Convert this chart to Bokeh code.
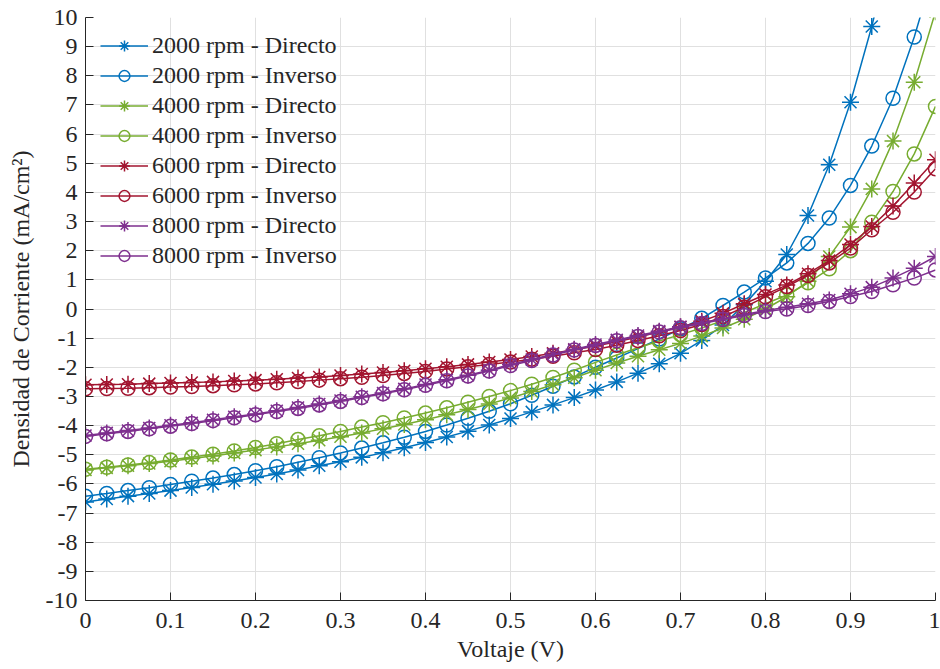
from bokeh.plotting import figure
from bokeh.models import FixedTicker, Legend, LegendItem, Range1d
from bokeh.embed import file_html
from bokeh.resources import INLINE

# Applied voltage (V)
voltaje = [0.0, 0.025, 0.05, 0.075, 0.1, 0.125, 0.15, 0.175, 0.2, 0.225,
           0.25, 0.275, 0.3, 0.325, 0.35, 0.375, 0.4, 0.425, 0.45, 0.475,
           0.5, 0.525, 0.55, 0.575, 0.6, 0.625, 0.65, 0.675, 0.7, 0.725,
           0.75, 0.775, 0.8, 0.825, 0.85, 0.875, 0.9, 0.925, 0.95, 0.975, 1.0]

# Current density (mA/cm^2) for each spin speed and sweep direction
j_2000_dir = [-6.62, -6.52, -6.42, -6.33, -6.23, -6.12, -6.01, -5.90, -5.78, -5.66,
              -5.52, -5.38, -5.24, -5.09, -4.93, -4.76, -4.58, -4.39, -4.19, -3.98,
              -3.76, -3.53, -3.29, -3.04, -2.78, -2.50, -2.20, -1.88, -1.52, -1.08,
              -0.55, 0.15, 0.95, 1.87, 3.21, 4.95, 7.09, 9.69, 12.7, 16.3, 20.5]
j_2000_inv = [-6.42, -6.33, -6.23, -6.13, -6.02, -5.91, -5.80, -5.68, -5.55, -5.41,
              -5.26, -5.10, -4.94, -4.77, -4.59, -4.40, -4.20, -3.98, -3.75, -3.51,
              -3.25, -2.96, -2.65, -2.33, -2.00, -1.68, -1.36, -1.03, -0.68, -0.32,
              0.12, 0.58, 1.06, 1.58, 2.25, 3.12, 4.24, 5.59, 7.23, 9.33, 11.8]
j_4000_dir = [-5.52, -5.45, -5.38, -5.30, -5.22, -5.13, -5.04, -4.94, -4.84, -4.73,
              -4.62, -4.50, -4.38, -4.25, -4.11, -3.96, -3.80, -3.63, -3.45, -3.26,
              -3.05, -2.83, -2.60, -2.36, -2.10, -1.85, -1.62, -1.40, -1.18, -0.93,
              -0.65, -0.35, 0.00, 0.42, 0.95, 1.80, 2.81, 4.12, 5.76, 7.78, 10.2]
j_4000_inv = [-5.50, -5.43, -5.35, -5.27, -5.18, -5.08, -4.98, -4.87, -4.75, -4.62,
              -4.48, -4.35, -4.20, -4.05, -3.90, -3.74, -3.57, -3.39, -3.20, -3.00,
              -2.80, -2.58, -2.35, -2.10, -1.83, -1.58, -1.33, -1.10, -0.88, -0.65,
              -0.40, -0.12, 0.18, 0.48, 0.90, 1.38, 2.00, 2.98, 4.03, 5.32, 6.95]
j_6000_dir = [-2.60, -2.59, -2.58, -2.56, -2.54, -2.52, -2.50, -2.47, -2.44, -2.41,
              -2.37, -2.33, -2.28, -2.23, -2.18, -2.12, -2.05, -1.98, -1.90, -1.82,
              -1.73, -1.63, -1.52, -1.40, -1.27, -1.12, -0.96, -0.79, -0.62, -0.42,
              -0.15, 0.18, 0.50, 0.82, 1.21, 1.66, 2.21, 2.83, 3.53, 4.32, 5.12]
j_6000_inv = [-2.74, -2.73, -2.72, -2.70, -2.68, -2.66, -2.63, -2.60, -2.57, -2.53,
              -2.49, -2.44, -2.39, -2.34, -2.28, -2.21, -2.14, -2.06, -1.98, -1.90,
              -1.82, -1.72, -1.62, -1.50, -1.39, -1.24, -1.08, -0.92, -0.74, -0.53,
              -0.26, 0.06, 0.42, 0.77, 1.15, 1.58, 2.09, 2.72, 3.32, 4.01, 4.81]
j_8000_dir = [-4.34, -4.25, -4.17, -4.08, -3.99, -3.90, -3.80, -3.70, -3.60, -3.49,
              -3.38, -3.26, -3.14, -3.01, -2.88, -2.74, -2.59, -2.43, -2.27, -2.10,
              -1.90, -1.73, -1.55, -1.38, -1.22, -1.06, -0.91, -0.76, -0.61, -0.47,
              -0.33, -0.19, -0.05, 0.06, 0.18, 0.31, 0.52, 0.75, 1.06, 1.40, 1.80]
j_8000_inv = [-4.37, -4.28, -4.20, -4.11, -4.02, -3.93, -3.83, -3.73, -3.63, -3.52,
              -3.41, -3.29, -3.17, -3.04, -2.91, -2.77, -2.62, -2.46, -2.30, -2.13,
              -1.94, -1.77, -1.58, -1.41, -1.25, -1.09, -0.94, -0.79, -0.64, -0.50,
              -0.36, -0.22, -0.09, 0.00, 0.12, 0.26, 0.43, 0.60, 0.83, 1.06, 1.34]

series = [
    ("2000 rpm - Directo", j_2000_dir, "#0072BD", "asterisk"),
    ("2000 rpm - Inverso", j_2000_inv, "#0072BD", "circle"),
    ("4000 rpm - Directo", j_4000_dir, "#77AC30", "asterisk"),
    ("4000 rpm - Inverso", j_4000_inv, "#77AC30", "circle"),
    ("6000 rpm - Directo", j_6000_dir, "#A2142F", "asterisk"),
    ("6000 rpm - Inverso", j_6000_inv, "#A2142F", "circle"),
    ("8000 rpm - Directo", j_8000_dir, "#7E2F8E", "asterisk"),
    ("8000 rpm - Inverso", j_8000_inv, "#7E2F8E", "circle"),
]

x_ticks = [0.0, 0.1, 0.2, 0.3, 0.4, 0.5, 0.6, 0.7, 0.8, 0.9, 1.0]
x_tick_labels = ["0", "0.1", "0.2", "0.3", "0.4", "0.5", "0.6", "0.7", "0.8", "0.9", "1"]
y_ticks = list(range(-10, 11))
y_tick_labels = [str(v) for v in y_ticks]

FONT = "Liberation Serif"
FONT_SIZE = "24px"
INK = "#262626"

p = figure(frame_width=850, frame_height=583,
           x_range=Range1d(0, 1), y_range=Range1d(-10, 10),
           output_backend="svg", toolbar_location=None,
           min_border_left=85, min_border_right=5,
           min_border_top=17, min_border_bottom=69,
           background_fill_color="white", border_fill_color="white")
p.outline_line_color = None

for ax, ticks, labels in ((p.xaxis[0], x_ticks, x_tick_labels),
                          (p.yaxis[0], y_ticks, y_tick_labels)):
    ax.ticker = FixedTicker(ticks=ticks, minor_ticks=[])
    ax.major_label_overrides = dict(zip(ticks, labels))
    ax.axis_line_color = INK
    ax.axis_line_width = 1
    ax.major_tick_line_color = INK
    ax.major_tick_in = 8
    ax.major_tick_out = 0
    ax.minor_tick_line_color = None
    ax.major_label_text_font = FONT
    ax.major_label_text_font_size = FONT_SIZE
    ax.major_label_text_color = INK
    ax.axis_label_text_font = FONT
    ax.axis_label_text_font_size = FONT_SIZE
    ax.axis_label_text_font_style = "normal"
    ax.axis_label_text_color = INK

p.xaxis.axis_label = "Voltaje (V)"
p.yaxis.axis_label = "Densidad de Corriente (mA/cm²)"
p.xaxis.major_label_standoff = 12
p.yaxis.major_label_standoff = 8
p.xaxis.axis_label_standoff = 5
p.yaxis.axis_label_standoff = 9

p.grid.grid_line_color = "#e0e0e0"
p.grid.grid_line_width = 1

items = []
for label, values, color, marker in series:
    ln = p.line(voltaje, values, line_color=color, line_width=1.5)
    if marker == "circle":
        sc = p.scatter(voltaje, values, marker="circle", size=14,
                       line_color=color, line_width=1.5, fill_color=None)
    else:
        sc = p.scatter(voltaje, values, marker="asterisk", size=17,
                       line_color=color, line_width=1.5)
    items.append(LegendItem(label=label, renderers=[ln, sc]))

legend = Legend(items=items, location="top_left",
                glyph_width=48, glyph_height=27, label_height=27,
                spacing=3, label_standoff=4, margin=0, padding=15,
                label_text_font=FONT, label_text_font_size=FONT_SIZE,
                label_text_color=INK,
                background_fill_alpha=0, border_line_alpha=0)
p.add_layout(legend)

open("out.html", "w").write(file_html(p, INLINE))
